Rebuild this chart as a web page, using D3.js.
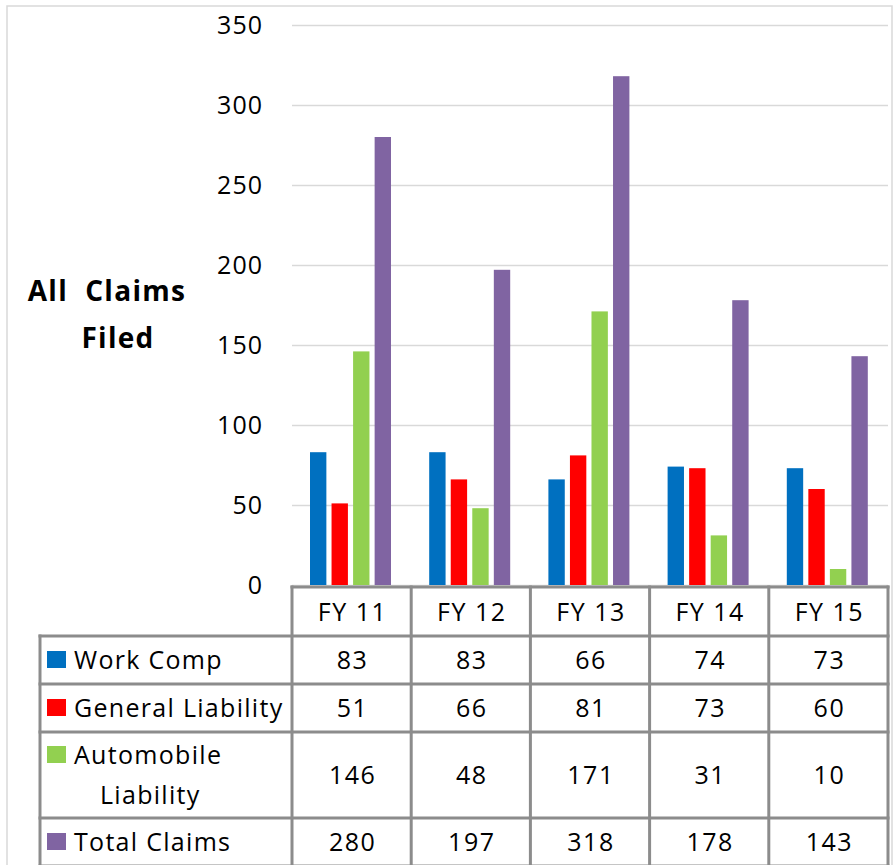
<!DOCTYPE html>
<html><head><meta charset="utf-8">
<script src="https://cdn.jsdelivr.net/npm/d3@7"></script>
<style>
html,body{margin:0;padding:0;background:#fff;}
svg text{font-family:"Open Sans","Lato",sans-serif;fill:#000;}
</style></head>
<body>
<svg id="c" width="895" height="865"></svg>
<script>
const categories = ["FY 11","FY 12","FY 13","FY 14","FY 15"];
const seriesNames = ["Work Comp","General Liability","Automobile Liability","Total Claims"];
const seriesColors = ["#0070C0","#FF0000","#92D050","#8064A2"];
const workComp = [83,83,66,74,73];
const generalLiability = [51,66,81,73,60];
const automobileLiability = [146,48,171,31,10];
const totalClaims = [280,197,318,178,143];
const yTicks = [0,50,100,150,200,250,300,350];

const series = [workComp, generalLiability, automobileLiability, totalClaims];

const svg = d3.select("#c");
const L = 292, R = 888, T = 25, B = 585;

// outer chart border
svg.append("rect").attr("x",7).attr("y",6).attr("width",885).attr("height",870)
  .attr("fill","none").attr("stroke","#d9d9d9").attr("stroke-width",1.5);

const x = d3.scaleBand().domain(categories).range([L,R]);
const colW = x.bandwidth();
const x1 = d3.scaleBand().domain(d3.range(4)).range([18, 99]).paddingInner(0.24);
const y = d3.scaleLinear().domain([0,350]).range([B,T]);

// gridlines + y labels
const yAxis = d3.axisLeft(y).tickValues(yTicks).tickSizeInner(-(R-L)).tickSizeOuter(0).tickPadding(29);
const ga = svg.append("g").attr("transform",`translate(${L},0)`).call(yAxis);
ga.select(".domain").remove();
ga.selectAll(".tick line").attr("stroke","#d9d9d9").attr("stroke-width",1.7);
ga.selectAll(".tick text").style("font-size","25px").style("letter-spacing","1px").attr("fill","#000").attr("dy","0.35em");

// bars
const groups = svg.append("g").selectAll("g").data(categories).join("g")
  .attr("transform", d => `translate(${x(d)},0)`);
groups.selectAll("rect").data((d,i) => series.map((s,j) => ({j, v:s[i]}))).join("rect")
  .attr("x", d => x1(d.j)).attr("width", x1.bandwidth())
  .attr("y", d => y(d.v)).attr("height", d => y(0)-y(d.v))
  .attr("fill", d => seriesColors[d.j]);

// y axis title
const title = svg.append("text").style("font-size","28px").style("font-weight","bold")
  .style("letter-spacing","1.3px").attr("text-anchor","middle");
title.append("tspan").attr("x",107).attr("y",301).text("All\u00a0\u00a0Claims");
title.append("tspan").attr("x",118).attr("y",348).text("Filed");

// data table
const rowEdges = [587, 636, 684, 732, 818, 866];
const tableLeft = 40;
const lineColor = "#8c8c8c", lw = 3;
const tg = svg.append("g");
tg.append("line").attr("x1",L).attr("x2",R).attr("y1",rowEdges[0]).attr("y2",rowEdges[0]);
rowEdges.slice(1).forEach(yy => tg.append("line").attr("x1",tableLeft).attr("x2",R).attr("y1",yy).attr("y2",yy));
tg.append("line").attr("x1",tableLeft).attr("x2",tableLeft).attr("y1",rowEdges[1]).attr("y2",rowEdges[5]);
categories.forEach(c => tg.append("line").attr("x1",x(c)).attr("x2",x(c)).attr("y1",rowEdges[0]).attr("y2",rowEdges[5]));
tg.append("line").attr("x1",R).attr("x2",R).attr("y1",rowEdges[0]).attr("y2",rowEdges[5]);
tg.selectAll("line").attr("stroke",lineColor).attr("stroke-width",lw).attr("stroke-linecap","square");

const fs = "25px", ls = "1.5px";
// headers
svg.append("g").selectAll("text").data(categories).join("text")
  .attr("x", d => x(d)+colW/2+1).attr("y",(rowEdges[0]+rowEdges[1])/2).attr("dy","0.36em")
  .attr("text-anchor","middle").style("font-size",fs).style("letter-spacing",ls).text(d => d);
// values
series.forEach((s,j) => {
  const cy = (rowEdges[j+1]+rowEdges[j+2])/2;
  svg.append("g").selectAll("text").data(s).join("text")
    .attr("x",(d,i) => x(categories[i])+colW/2+1).attr("y",cy).attr("dy","0.36em")
    .attr("text-anchor","middle").style("font-size",fs).style("letter-spacing",ls).text(d => d);
  // legend
  const lines = j===2 ? ["Automobile","Liability"] : [seriesNames[j]];
  const firstY = j===2 ? cy-20 : cy;
  svg.append("rect").attr("x",47).attr("y",firstY-9).attr("width",19).attr("height",17).attr("fill",seriesColors[j]);
  const t = svg.append("text").style("font-size",fs).style("letter-spacing","1.3px");
  lines.forEach((ln,k) => t.append("tspan").attr("x", k===0?74:100).attr("y", firstY + k*40).attr("dy","0.36em").text(ln));
});
</script>
</body></html>
